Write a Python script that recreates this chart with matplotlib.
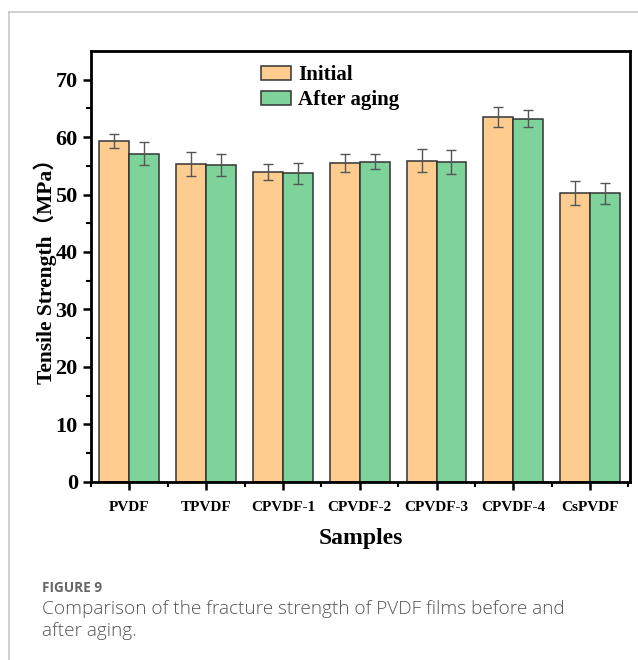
import matplotlib.pyplot as plt
import numpy as np
from matplotlib.lines import Line2D

samples = ['PVDF', 'TPVDF', 'CPVDF-1', 'CPVDF-2', 'CPVDF-3', 'CPVDF-4', 'CsPVDF']
initial = [59.3, 55.3, 53.9, 55.5, 55.9, 63.5, 50.3]
initial_err = [1.2, 2.1, 1.4, 1.5, 2.0, 1.8, 2.1]
aged = [57.1, 55.1, 53.7, 55.7, 55.6, 63.2, 50.2]
aged_err = [2.0, 1.9, 1.8, 1.3, 2.1, 1.5, 1.9]

serif = 'Liberation Serif'
orange = '#FFCC8F'
green = '#7DD39A'

fig = plt.figure(figsize=(6.38, 6.60), dpi=100)

# card border of the journal page
fig.add_artist(Line2D([9/638, 9/638], [0, 1-12/660], transform=fig.transFigure, color='#c8c8c8', lw=1.2))
fig.add_artist(Line2D([9/638, 1], [1-12/660, 1-12/660], transform=fig.transFigure, color='#c8c8c8', lw=1.2))

ax = fig.add_axes([91/638, 1-481.7/660, 539/638, (481.7-51)/660])

x = np.arange(len(samples))
w = 0.39
ekw = dict(ecolor='#555555', elinewidth=1.0, capsize=3.5, capthick=1.0)
ax.bar(x - w/2, initial, w, yerr=initial_err, color=orange, edgecolor='#333333', linewidth=1.1,
       error_kw=ekw, label='Initial')
ax.bar(x + w/2, aged, w, yerr=aged_err, color=green, edgecolor='#333333', linewidth=1.1,
       error_kw=ekw, label='After aging')

ax.set_xlim(-0.5, 6.52)
ax.set_ylim(0, 75)
ax.set_yticks(np.arange(0, 71, 10))
ax.set_yticks(np.arange(5, 75, 10), minor=True)
ax.set_xticks(x)
ax.set_xticks(np.arange(-0.5, 6.6, 1.0), minor=True)
ax.set_xticklabels(samples)

for s in ax.spines.values():
    s.set_linewidth(2.0)
ax.tick_params(which='major', direction='out', length=6, width=1.8)
ax.tick_params(which='minor', direction='out', length=3.5, width=1.5)
for lab in ax.get_yticklabels():
    lab.set_fontfamily(serif); lab.set_fontweight('bold'); lab.set_fontsize(16)
for lab in ax.get_xticklabels():
    lab.set_fontfamily(serif); lab.set_fontweight('bold'); lab.set_fontsize(11)
ax.tick_params(axis='x', pad=8)

ax.set_xlabel('Samples', family=serif, weight='bold', fontsize=17, labelpad=10)
ax.set_ylabel('Tensile Strength（MPa）', family=[serif, 'Noto Sans CJK SC'], weight='bold',
              fontsize=15.5, labelpad=-1)

leg = ax.legend(loc='upper left', bbox_to_anchor=(261/638, 1-65/660), bbox_transform=fig.transFigure,
                frameon=False, prop={'family': serif, 'weight': 'bold', 'size': 15},
                handlelength=1.45, handleheight=0.68, handletextpad=0.35, labelspacing=0.25,
                borderpad=0, borderaxespad=0)

fig.text(42/638, 1-588/660, 'FIGURE 9', family='Open Sans', weight='bold', fontsize=9.8,
         color='#666666', va='center')
fig.text(42/638, 1-609/660, 'Comparison of the fracture strength of PVDF films before and',
         family='Open Sans', weight='light', fontsize=13.7, color='#555555', va='center')
fig.text(42/638, 1-631/660, 'after aging.', family='Open Sans', weight='light', fontsize=13.7,
         color='#555555', va='center')

fig.savefig('out.png', dpi=100)
